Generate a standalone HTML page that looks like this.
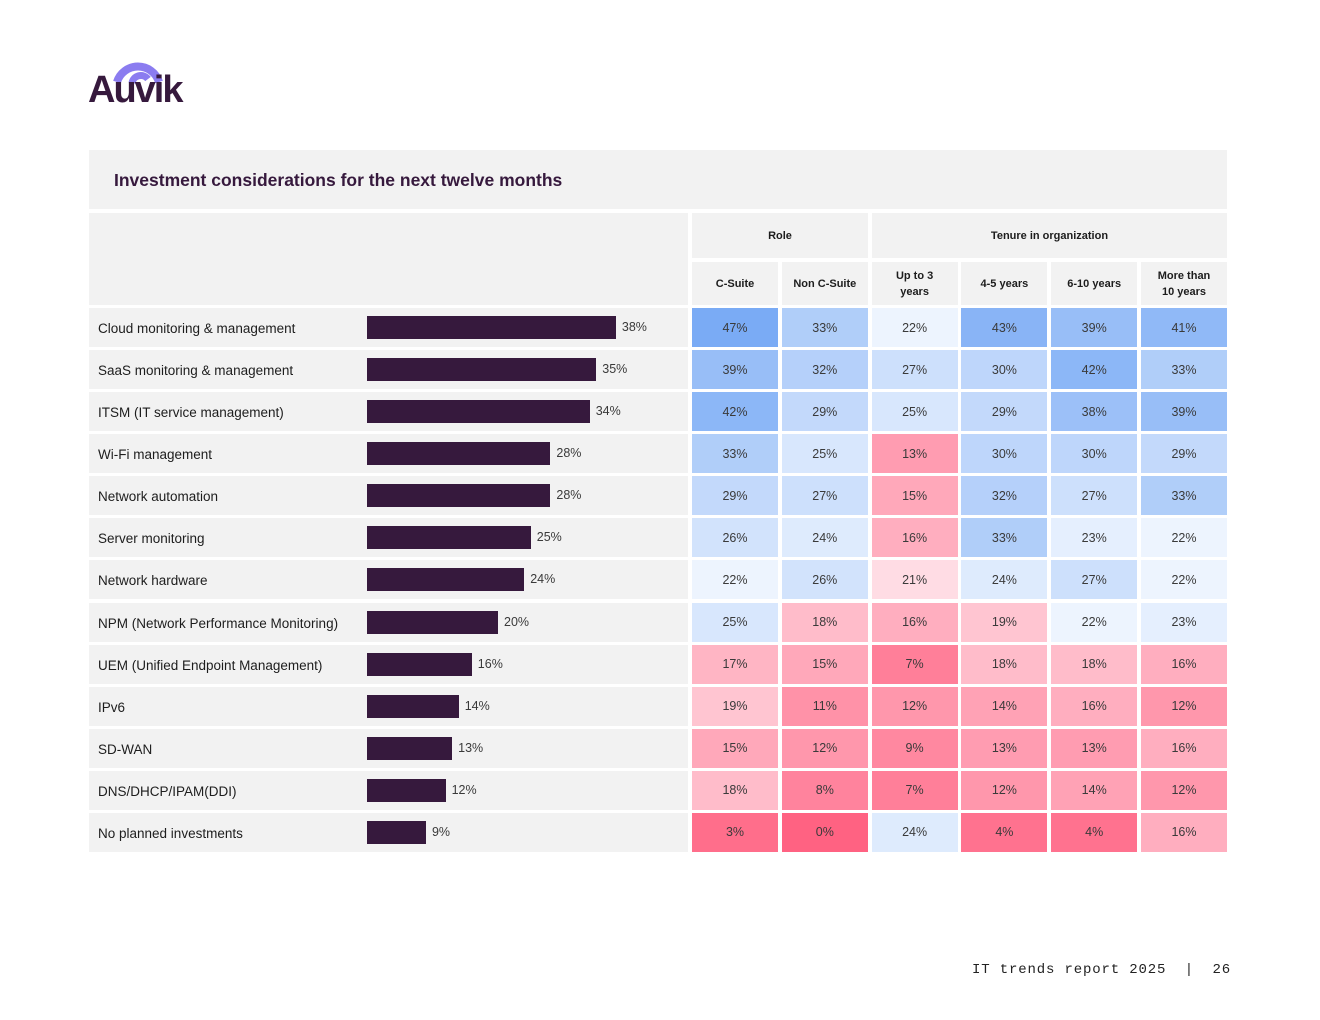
<!DOCTYPE html>
<html><head><meta charset="utf-8">
<style>
body{margin:0;width:1320px;height:1020px;background:#fff;font-family:"Liberation Sans",sans-serif;position:relative;overflow:hidden}
.abs{position:absolute}
.cell{position:absolute;display:flex;align-items:center;justify-content:center;box-sizing:border-box}
.hdr{background:#f2f2f2;font-weight:bold;font-size:11px;color:#1d1d1d;text-align:center;line-height:16px}
.lbl{font-size:13.5px;color:#1d1d1d;position:absolute;left:98px}
.val{font-size:12.5px;color:#3a3a3a}
</style></head><body>
<div class="abs" style="left:88px;top:52px;width:100px;height:55px">
<svg width="100" height="55"><path d="M29 30 A22 22 0 0 1 71 30" stroke="#8b7cf0" stroke-width="8" fill="none"/><path d="M44 31 A9 9 0 0 1 60 27" stroke="#8b7cf0" stroke-width="7" fill="none"/></svg>
<div class="abs" style="left:0;top:17px;font-size:38px;font-weight:bold;color:#36193d;letter-spacing:-2px">Auvik</div>
</div>
<div class="abs" style="left:89px;top:150px;width:1138px;height:59px;background:#f2f2f2"></div>
<div class="abs" style="left:114px;top:170px;font-size:17.5px;font-weight:bold;color:#36193d">Investment considerations for the next twelve months</div>
<div class="abs" style="left:89px;top:213px;width:599px;height:92px;background:#f2f2f2"></div>
<div class="cell hdr" style="left:692px;top:213px;width:176px;height:45px">Role</div>
<div class="cell hdr" style="left:872px;top:213px;width:355px;height:45px">Tenure in organization</div>
<div id="chart"></div>
<div class="abs" style="left:972px;top:962px;font-family:'Liberation Mono',monospace;font-size:14px;letter-spacing:0.85px;color:#222;white-space:pre">IT trends report 2025  |  26</div>
<script>
const categories=["Cloud monitoring & management","SaaS monitoring & management","ITSM (IT service management)","Wi-Fi management","Network automation","Server monitoring","Network hardware","NPM (Network Performance Monitoring)","UEM (Unified Endpoint Management)","IPv6","SD-WAN","DNS/DHCP/IPAM(DDI)","No planned investments"];
const totals=[38,35,34,28,28,25,24,20,16,14,13,12,9];
const columns=["C-Suite","Non C-Suite","Up to 3<br>years","4-5 years","6-10 years","More than<br>10 years"];
const cSuite=[47,39,42,33,29,26,22,25,17,19,15,18,3];
const nonCSuite=[33,32,29,25,27,24,26,18,15,11,12,8,0];
const upTo3=[22,27,25,13,15,16,21,16,7,12,9,7,24];
const yrs4to5=[43,30,29,30,32,33,24,19,18,14,13,12,4];
const yrs6to10=[39,42,38,30,27,23,27,22,18,16,13,14,4];
const moreThan10=[41,33,39,29,33,22,22,23,16,12,16,12,16];
const series=[cSuite,nonCSuite,upTo3,yrs4to5,yrs6to10,moreThan10];
const root=document.getElementById('chart');
const rowY=i=>308+i*42.08, rowH=39;
const barX=v=>v*6.55;
const colX=j=>692+j*89.8;
function mix(a,b,t){return 'rgb('+a.map((c,k)=>Math.round(c+(b[k]-c)*t)).join(',')+')';}
function color(v){
  if(v>=21.5){const t=Math.min(1,Math.pow((v-21.5)/25.5,0.75));return mix([243,248,255],[122,171,245],t);}
  const t=Math.min(1,Math.pow((21.5-v)/21.5,0.6));return mix([255,234,239],[255,98,130],t);
}
columns.forEach((c,j)=>{
  const h=document.createElement('div');h.className='cell hdr';
  h.style.cssText=`left:${colX(j)}px;top:262px;width:86px;height:43px`;
  h.innerHTML=c;
  
  
  root.appendChild(h);
});
categories.forEach((cat,i)=>{
  const y=rowY(i);
  const bg=document.createElement('div');bg.className='abs';
  bg.style.cssText=`left:89px;top:${y}px;width:599px;height:${rowH}px;background:#f2f2f2`;
  
  
  root.appendChild(bg);
  const l=document.createElement('div');l.className='lbl';
  l.style.top=(y+13)+'px';l.textContent=cat;
  
  
  root.appendChild(l);
  const b=document.createElement('div');b.className='abs';
  b.style.cssText=`left:367px;top:${y+8}px;width:${barX(totals[i])}px;height:23px;background:#36193d`;
  
  
  root.appendChild(b);
  const t=document.createElement('div');t.className='abs val';
  t.style.cssText=`left:${367+barX(totals[i])+6}px;top:${y+12}px`;
  t.textContent=totals[i]+'%';
  
  
  root.appendChild(t);
  series.forEach((s,j)=>{
    const c=document.createElement('div');c.className='cell val';
    c.style.cssText=`left:${colX(j)}px;top:${y}px;width:86px;height:${rowH}px;background:${color(s[i])}`;
    c.textContent=s[i]+'%';
    
    
    root.appendChild(c);
  });
});
</script>
</body></html>
